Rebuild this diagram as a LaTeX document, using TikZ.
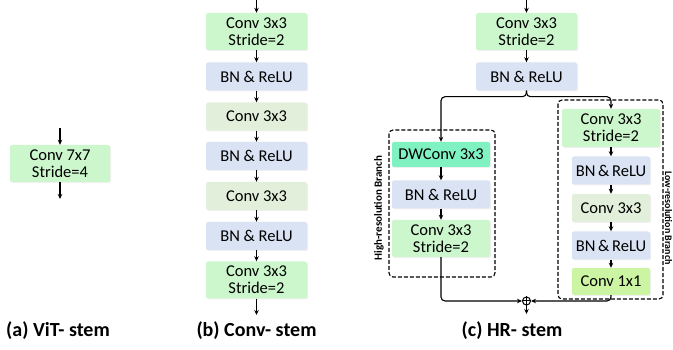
\documentclass[tikz,border=0pt]{standalone}
\usepackage{fontspec}
\setmainfont{Carlito}
\usetikzlibrary{arrows.meta,shadows}
\definecolor{convS}{HTML}{CCF7CC}
\definecolor{bnC}{HTML}{DAE3F3}
\definecolor{convP}{HTML}{E2EFDA}
\definecolor{dwC}{HTML}{80F2C2}
\definecolor{oneC}{HTML}{CBF5A2}
\tikzset{>={Stealth[length=5pt,width=4.5pt]},every node/.style={font=\fontsize{16.5}{17}\selectfont},
blk/.style={rounded corners=2pt,align=center,inner sep=0pt,drop shadow={opacity=.12,shadow xshift=1pt,shadow yshift=-1pt}},
cs/.style={blk,fill=convS,minimum height=37pt},bn/.style={blk,fill=bnC,minimum height=28pt},
cv/.style={blk,fill=convP,minimum height=28pt},dw/.style={blk,fill=dwC,minimum height=25pt},
one/.style={blk,fill=oneC,minimum height=27pt},
flow/.style={->,line width=1.1pt},frame/.style={dash pattern=on 4pt off 2pt,line width=1.1pt,rounded corners=4pt},
stemcap/.style={font=\fontsize{20}{22}\selectfont\bfseries,anchor=base},
side/.style={font=\fontsize{11}{12}\selectfont\bfseries}}

\begin{document}
\begin{tikzpicture}[x=1pt,y=-1pt]
\useasboundingbox (0,0) rectangle (673,350);
% (a) ViT stem
\node[cs,minimum width=100pt] (a1) at (60,163.5) {Conv 7x7\\Stride=4};
\coordinate (ain) at (60,128);\coordinate (aout) at (60,199);
\draw[flow] (ain)--(a1);\draw[flow] (a1)--(aout);
\node[stemcap] (alab) at (58,337) {(a) ViT- stem};
% (b) Conv stem
\foreach \n/\y/\s/\t in {b1/31.5/cs/{Conv 3x3\\Stride=2},b2/76.5/bn/{BN \& ReLU},b3/116.5/cv/{Conv 3x3},b4/156/bn/{BN \& ReLU},b5/196/cv/{Conv 3x3},b6/236/bn/{BN \& ReLU},b7/280/cs/{Conv 3x3\\Stride=2}}
  \node[\s,minimum width=101pt] (\n) at (256.5,\y) {\t};
\coordinate (bin) at (256.5,0);\coordinate (bout) at (256.5,315);
\foreach \p/\q in {bin/b1,b1/b2,b2/b3,b3/b4,b4/b5,b5/b6,b6/b7,b7/bout}{\draw[flow] (\p)--(\q);}
\node[stemcap] (blab) at (256.5,337) {(b) Conv- stem};
% (c) HR stem
\node[cs,minimum width=101pt] (c1) at (526.5,31.5) {Conv 3x3\\Stride=2};
\node[bn,minimum width=101pt] (c2) at (526.5,76.5) {BN \& ReLU};
\coordinate (cin) at (526.5,0);
\draw[flow] (cin)--(c1);\draw[flow] (c1)--(c2);
% high-resolution branch
\foreach \n/\y/\s/\t in {l1/154.5/dw/{DWConv 3x3},l2/194.5/bn/{BN \& ReLU},l3/238.5/cs/{Conv 3x3\\Stride=2}}
  \node[\s,minimum width=98pt] (\n) at (441,\y) {\t};
\draw[flow] (l1)--(l2);\draw[flow] (l2)--(l3);
\draw[frame] (389,130) rectangle (495,277);
\node[side,rotate=90] (hlab) at (379,208) {High-resolution Branch};
% low-resolution branch
\node[cs,minimum width=98pt,minimum height=38pt] (r1) at (611,128) {Conv 3x3\\Stride=2};
\foreach \n/\y/\s/\t in {r2/170.5/bn/{BN\,\&\,ReLU},r3/208/cv/{Conv 3x3},r4/245.5/bn/{BN\,\&\,ReLU},r5/281.5/one/{Conv 1x1}}
  \node[\s,minimum width=78pt] (\n) at (611,\y) {\t};
\foreach \p/\q in {r1/r2,r2/r3,r3/r4,r4/r5}{\draw[flow] (\p)--(\q);}
\draw[frame] (558,100) rectangle (663,299);
\node[side,rotate=-90,font=\fontsize{10}{11}\selectfont\bfseries,inner sep=0pt] (llab) at (668.5,218) {Low-resolution Branch};
% split and merge
\draw[flow,rounded corners=4pt] (c2.south)--++(0,6)-|(l1);
\draw[flow,rounded corners=4pt] (c2.south)--++(0,6)-|(r1);
\node[circle,draw,line width=1pt,inner sep=0pt,minimum size=8pt] (sum) at (526.5,301) {};
\draw[line width=1pt] (sum.north)--(sum.south) (sum.west)--(sum.east);
\draw[flow,rounded corners=4pt] (l3)|-(sum);
\draw[flow,rounded corners=4pt] (r5)|-(sum);
\coordinate (cout) at (526.5,314);\draw[flow] (sum)--(cout);
\node[stemcap] (clab) at (512,337) {(c) HR- stem};
\end{tikzpicture}
\end{document}
